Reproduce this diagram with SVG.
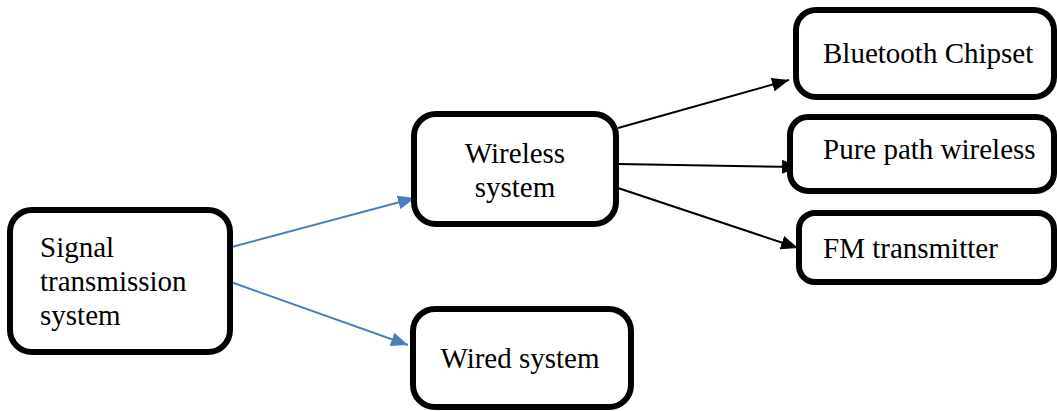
<svg xmlns="http://www.w3.org/2000/svg" width="1057" height="411" viewBox="0 0 1057 411">
<style>
.box{fill:#fff;stroke:#000;stroke-width:6}
.t{font-family:"Liberation Serif","Times New Roman",serif;font-size:29px;fill:#000}
.c{text-anchor:middle}
.blue{stroke:#4a7ebb;stroke-width:2;fill:none}
.blk{stroke:#000;stroke-width:2;fill:none}
</style>
<defs>
<marker id="ab" markerUnits="userSpaceOnUse" markerWidth="18" markerHeight="14" refX="17" refY="7" orient="auto"><path d="M0,0 L17,7 L0,14 z" fill="#4a7ebb"/></marker>
<marker id="ak" markerUnits="userSpaceOnUse" markerWidth="18" markerHeight="14" refX="17" refY="7" orient="auto"><path d="M0,0 L17,7 L0,14 z" fill="#000"/></marker>
</defs>
<rect width="1057" height="411" fill="#fff"/>
<g id="connectors">
<line class="blue" x1="224" y1="249" x2="415" y2="198" marker-end="url(#ab)"/>
<line class="blue" x1="228" y1="281" x2="408" y2="345" marker-end="url(#ab)"/>
<line class="blk" x1="618" y1="128" x2="789" y2="80" marker-end="url(#ak)"/>
<line class="blk" x1="618" y1="164" x2="799" y2="167" marker-end="url(#ak)"/>
<line class="blk" x1="612" y1="186" x2="798" y2="248" marker-end="url(#ak)"/>
</g>
<g id="signal">
<rect class="box" x="10" y="210" width="220" height="142" rx="22"/>
<text class="t" x="40" y="257">Signal</text>
<text class="t" x="40" y="291">transmission</text>
<text class="t" x="40" y="325">system</text>
</g>
<g id="wireless">
<rect class="box" x="414" y="114" width="202" height="110" rx="22"/>
<text class="t c" x="515" y="163">Wireless</text>
<text class="t c" x="515" y="197">system</text>
</g>
<g id="wired">
<rect class="box" x="413" y="309" width="218" height="98" rx="22"/>
<text class="t c" x="520" y="368">Wired system</text>
</g>
<g id="bluetooth">
<rect class="box" x="796" y="10" width="258" height="87" rx="20"/>
<text class="t" x="823" y="63">Bluetooth Chipset</text>
</g>
<g id="purepath">
<rect class="box" x="790" y="117" width="264" height="74" rx="18"/>
<text class="t" x="823" y="159">Pure path wireless</text>
</g>
<g id="fm">
<rect class="box" x="799" y="213" width="255" height="69" rx="16"/>
<text class="t" x="823" y="258">FM transmitter</text>
</g>
</svg>
